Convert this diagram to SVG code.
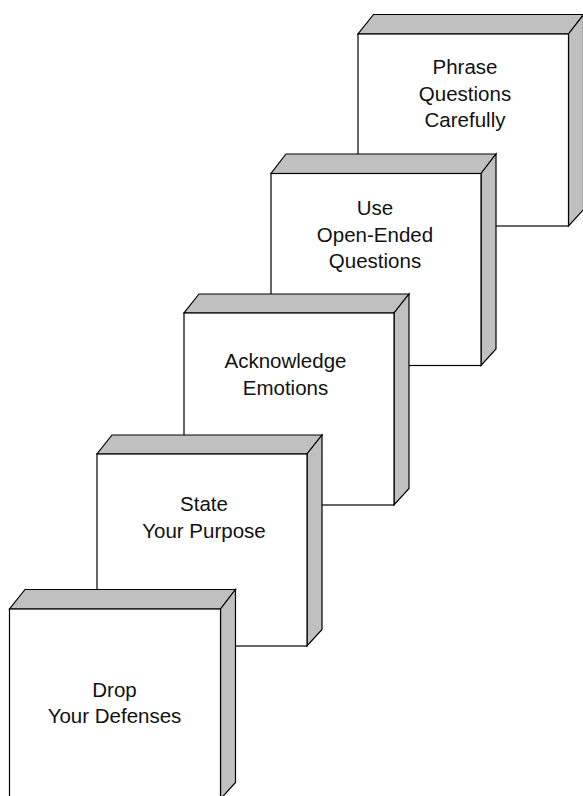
<svg xmlns="http://www.w3.org/2000/svg" width="583" height="796" viewBox="0 0 583 796">
<style>
.front{fill:#ffffff;stroke:#000;stroke-width:1.2;stroke-linejoin:miter}
.side{fill:#c0c0c0;stroke:#000;stroke-width:1.2;stroke-linejoin:miter}
.lbl{font-family:"Liberation Sans",Arial,Helvetica,sans-serif;font-size:20.5px;fill:#111;text-anchor:middle}
</style>
<rect width="583" height="796" fill="#ffffff"/>
<g id="connectors"/>
<g id="box5">
<polygon class="side" points="358,34 568.5,34 583.5,14.5 373.5,14.5"/>
<polygon class="side" points="568.5,34 583.5,14.5 583.5,209.5 568.5,226"/>
<rect class="front" x="358" y="34" width="210.5" height="192"/>
<text class="lbl" x="465" y="74">Phrase</text>
<text class="lbl" x="465" y="100.5">Questions</text>
<text class="lbl" x="465" y="127">Carefully</text>
</g>
<g id="box4">
<polygon class="side" points="271,173.5 481,173.5 496,154 286,154"/>
<polygon class="side" points="481,173.5 496,154 496,349 481,365.5"/>
<rect class="front" x="271" y="173.5" width="210" height="192"/>
<text class="lbl" x="375" y="215">Use</text>
<text class="lbl" x="375" y="241.5">Open-Ended</text>
<text class="lbl" x="375" y="268">Questions</text>
</g>
<g id="box3">
<polygon class="side" points="184,313 394,313 409,294 199,294"/>
<polygon class="side" points="394,313 409,294 409,488.5 394,505"/>
<rect class="front" x="184" y="313" width="210" height="192"/>
<text class="lbl" x="285.5" y="368">Acknowledge</text>
<text class="lbl" x="285.5" y="394.5">Emotions</text>
</g>
<g id="box2">
<polygon class="side" points="97,454 307,454 322,435 112,435"/>
<polygon class="side" points="307,454 322,435 322,629.5 307,646"/>
<rect class="front" x="97" y="454" width="210" height="192"/>
<text class="lbl" x="204" y="511">State</text>
<text class="lbl" x="204" y="537.5">Your Purpose</text>
</g>
<g id="box1">
<polygon class="side" points="9.5,609 220.5,609 235.5,589.5 25,589.5"/>
<polygon class="side" points="220.5,609 235.5,589.5 235.5,782.5 220.5,799"/>
<rect class="front" x="9.5" y="609" width="211" height="191"/>
<text class="lbl" x="114.5" y="696.5">Drop</text>
<text class="lbl" x="114.5" y="722.5">Your Defenses</text>
</g>
</svg>
